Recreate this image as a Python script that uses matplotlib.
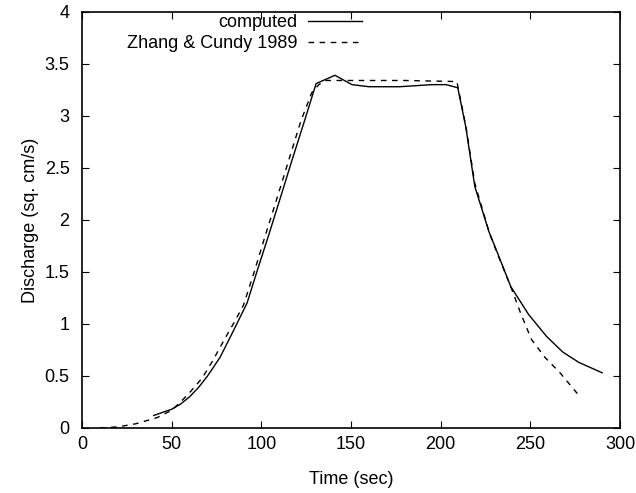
import matplotlib
matplotlib.use("Agg")
import matplotlib.pyplot as plt

plt.rcParams['font.family'] = ['Liberation Sans', 'DejaVu Sans']

# computed discharge
t_comp = [40, 45, 50, 55, 60, 65, 70, 77, 84, 92, 98, 104, 110, 117, 124, 130.5,
          141, 150.5, 160, 177, 195, 203, 209.5, 214, 219, 227, 231, 239, 249,
          259, 268, 277, 290]
q_comp = [0.12, 0.15, 0.18, 0.23, 0.30, 0.39, 0.50, 0.68, 0.92, 1.20, 1.53, 1.85,
          2.18, 2.57, 2.95, 3.31, 3.39, 3.30, 3.28, 3.28, 3.30, 3.30, 3.27, 2.89,
          2.32, 1.88, 1.71, 1.36, 1.09, 0.88, 0.73, 0.63, 0.53]

# Zhang & Cundy 1989
t_zc = [10, 20, 30, 42, 50, 55, 60, 67, 73, 80, 85, 90, 96, 102, 108, 115, 122,
        128, 132, 136, 150, 180, 209, 214, 219, 227, 231, 239, 244.6, 250.6,
        258, 266.5, 277.6]
q_zc = [0.0, 0.01, 0.04, 0.10, 0.17, 0.25, 0.34, 0.48, 0.65, 0.87, 1.02, 1.18,
        1.50, 1.84, 2.17, 2.56, 2.95, 3.22, 3.30, 3.34, 3.34, 3.34, 3.33, 2.90,
        2.35, 1.88, 1.70, 1.36, 1.10, 0.85, 0.68, 0.53, 0.30]

fig = plt.figure(figsize=(6.36, 4.93), dpi=100)
ax = fig.add_axes([0.129, 0.132, 0.846, 0.844])

ax.plot(t_comp, q_comp, color='black', lw=1.0, label='computed')
ax.plot(t_zc, q_zc, color='black', lw=1.0, linestyle=(0, (4, 4)), label='Zhang & Cundy 1989')

ax.set_xlim(0, 300)
ax.set_ylim(0, 4)
ax.set_xticks([0, 50, 100, 150, 200, 250, 300])
ax.set_yticks([0, 0.5, 1, 1.5, 2, 2.5, 3, 3.5, 4])
ax.set_yticklabels(['0', '0.5', '1', '1.5', '2', '2.5', '3', '3.5', '4'])
ax.tick_params(direction='in', top=True, right=True, length=5, labelsize=13)
ax.tick_params(axis='y', pad=9)
ax.tick_params(axis='x', pad=6)
for s in ax.spines.values():
    s.set_linewidth(1.2)

ax.set_xlabel('Time (sec)', fontsize=13, labelpad=13)
ax.set_ylabel('Discharge (sq. cm/s)', fontsize=13, labelpad=4)

ax.legend(loc='upper right', bbox_to_anchor=(0.52, 0.995), frameon=False, markerfirst=False,
          fontsize=13, handlelength=3.0, handletextpad=0.55, labelspacing=0.25,
          borderaxespad=0.0, borderpad=0.0)

fig.savefig('out.png', dpi=100)
